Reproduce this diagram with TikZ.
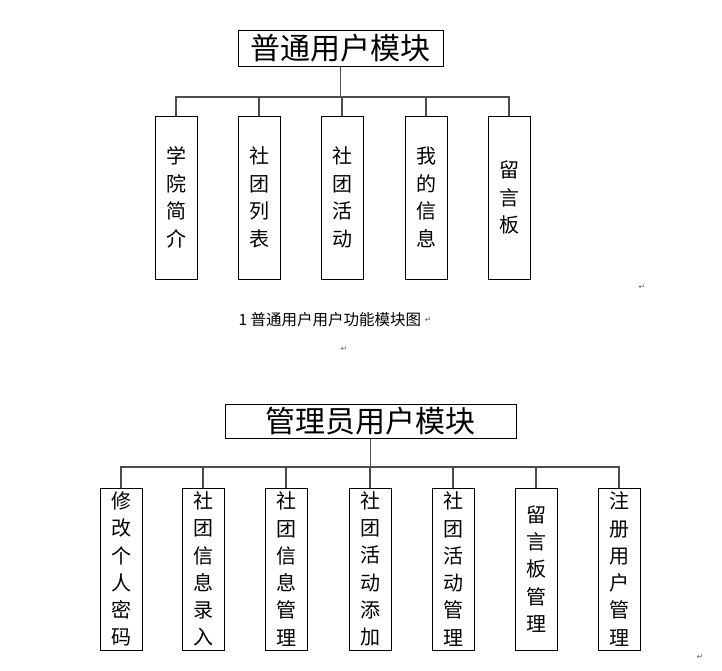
\documentclass[tikz,border=0pt]{standalone}
\usepackage{fontspec}
\newfontfamily\cjk{Noto Sans CJK SC}
\newfontfamily\djv{DejaVu Sans}
\begin{document}
\begin{tikzpicture}[x=1pt,y=-1pt,
  bx/.style={draw,line width=1pt,minimum width=42pt,inner sep=0pt,font=\cjk\fontsize{20}{27.5}\selectfont,align=center},
  ttl/.style={draw,line width=1pt,inner sep=0pt,font=\cjk\fontsize{30}{32}\selectfont},
  ln/.style={line width=1.4pt,draw=black!70}]
\useasboundingbox (0,0) rectangle (722,670);
% top
\node[ttl,minimum width=205pt,minimum height=36pt] (t1) at (340.5,48) {普通用户模块};
\coordinate (b1) at (340.5,97);
\foreach \x/\t/\n in {176/学\\院\\简\\介/a,259/社\\团\\列\\表/b,342/社\\团\\活\\动/c,426/我\\的\\信\\息/d,509/留\\言\\板/e}{
  \node[bx,minimum height=163pt] (u\n) at (\x,197.5) {\t};
}
\draw[ln] (t1.south) -- (b1);
\draw[ln] (ua.north) -- (ua.north|-b1) -- (ue.north|-b1) -- (ue.north);
\foreach \n in {b,c,d}{\draw[ln] (u\n.north) -- (u\n.north|-b1);}
\node[font=\cjk\fontsize{15.5}{15}\selectfont,anchor=west] (cap) at (235,320) {1 普通用户用户功能模块图};
\node[font=\djv\fontsize{8}{8}\selectfont,text=black!60,anchor=west,inner sep=0pt] (r1) at (cap.east) {↵};
\node[font=\djv\fontsize{8}{8}\selectfont,text=black!60] (r2) at (642,287) {↵};
\node[font=\djv\fontsize{8}{8}\selectfont,text=black!60] (r3) at (344,349) {↵};
% bottom
\node[ttl,minimum width=291pt,minimum height=34pt] (t2) at (370.5,421) {管理员用户模块};
\coordinate (b2) at (370.5,467);
\foreach \x/\t/\n in {121/修\\改\\个\\人\\密\\码/a,203/社\\团\\信\\息\\录\\入/b,286/社\\团\\信\\息\\管\\理/c,370/社\\团\\活\\动\\添\\加/d,453/社\\团\\活\\动\\管\\理/e,536/留\\言\\板\\管\\理/f,619/注\\册\\用\\户\\管\\理/g}{
  \node[bx,minimum height=162pt,font=\cjk\fontsize{20}{27.3}\selectfont] (m\n) at (\x,569) {\t};
}
\draw[ln] (t2.south) -- (b2);
\draw[ln] (ma.north) -- (ma.north|-b2) -- (mg.north|-b2) -- (mg.north);
\foreach \n in {b,c,d,e,f}{\draw[ln] (m\n.north) -- (m\n.north|-b2);}
\node[font=\djv\fontsize{8}{8}\selectfont,text=black!60] (r4) at (700,657) {↵};
\end{tikzpicture}
\end{document}
